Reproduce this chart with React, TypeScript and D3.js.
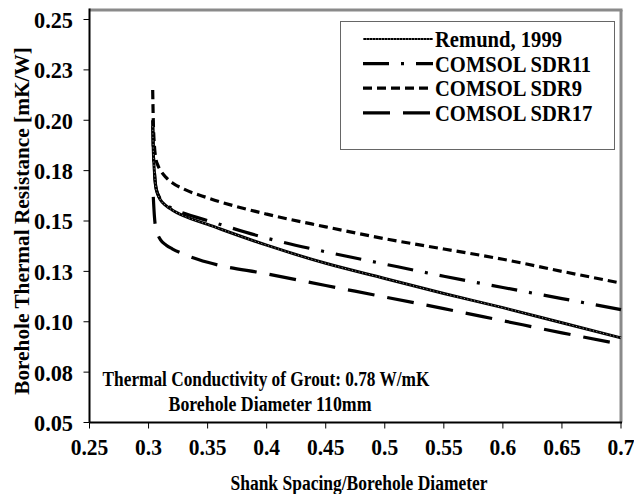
import React from "react";
import * as d3 from "d3";

// ---- data ----
const xValues = [0.3035, 0.304, 0.305, 0.306, 0.308, 0.31, 0.315, 0.32, 0.33, 0.35, 0.4, 0.45, 0.5, 0.55, 0.6, 0.65, 0.7];
const remund = [0.197, 0.185, 0.174, 0.1675, 0.163, 0.1605, 0.1575, 0.1555, 0.1525, 0.1483, 0.138, 0.129, 0.1215, 0.114, 0.107, 0.0995, 0.092];
const sdr11 = [0.2, 0.186, 0.174, 0.1675, 0.1632, 0.161, 0.158, 0.1562, 0.1538, 0.1502, 0.1415, 0.1347, 0.1286, 0.1226, 0.117, 0.1115, 0.106];
const sdr9 = [0.215, 0.2, 0.187, 0.1815, 0.1775, 0.1752, 0.1715, 0.169, 0.1658, 0.1615, 0.1534, 0.1471, 0.1412, 0.1361, 0.131, 0.125, 0.1192];
const sdr17 = [null, 0.162, 0.152, 0.1465, 0.143, 0.1408, 0.138, 0.1362, 0.1335, 0.1295, 0.1238, 0.118, 0.1123, 0.1065, 0.1005, 0.0945, 0.0888];

const seriesNames = ["Remund, 1999", "COMSOL SDR11", "COMSOL SDR9", "COMSOL SDR17"];

const xTicks = [0.25, 0.3, 0.35, 0.4, 0.45, 0.5, 0.55, 0.6, 0.65, 0.7];
const xTickLabels = ["0.25", "0.3", "0.35", "0.4", "0.45", "0.5", "0.55", "0.6", "0.65", "0.7"];
const yTicks = [0.05, 0.075, 0.1, 0.125, 0.15, 0.175, 0.2, 0.225, 0.25];
const yTickLabels = ["0.05", "0.08", "0.10", "0.13", "0.15", "0.18", "0.20", "0.23", "0.25"];

const FONT = "'Liberation Serif', 'Times New Roman', serif";

function T({ x, y, size, sy = 1.15, anchor = "start", children }: any) {
  return (
    <text transform={`translate(${x},${y}) scale(1,${sy})`} fontSize={size} textAnchor={anchor} dy="0.35em">
      {children}
    </text>
  );
}

export default function App() {
  const W = 634, H = 494;
  const left = 89.5, right = 621, top = 10, bottom = 422.5;
  const x = d3.scaleLinear().domain([0.25, 0.7]).range([left, right]);
  const y = d3.scaleLinear().domain([0.05, 0.25]).range([bottom, 19.5]);

  const mk = (vals: (number | null)[]) =>
    d3
      .line<number>()
      .defined((_, i) => vals[i] != null)
      .x((d) => x(d))
      .y((_, i) => y(vals[i] as number))
      .curve(d3.curveMonotoneX)(xValues) || "";

  const styles = [
    { dash: "", w: 3 },
    { dash: "26,12,3,12", w: 3.2 },
    { dash: "9,5", w: 3.2 },
    { dash: "27,13", w: 3.2 },
  ];
  const paths = [mk(remund), mk(sdr11), mk(sdr9), mk(sdr17)];

  const legX = 340.5, legY = 21.5, legW = 274, legH = 128;
  const rowY = (i: number) => 39 + i * 24.6;

  return (
    <svg width={W} height={H} style={{ position: "absolute", left: 0, top: 0, background: "#fff" }} fontFamily={FONT} fontWeight="bold">
      <rect x={0} y={0} width={W} height={H} fill="#fff" />
      {/* plot frame */}
      <line x1={left} y1={top} x2={right + 1.5} y2={top} stroke="#8a8a8a" strokeWidth={3} />
      <line x1={right} y1={top} x2={right} y2={bottom} stroke="#8a8a8a" strokeWidth={3} />
      <line x1={left} y1={top - 1.5} x2={left} y2={bottom} stroke="#000" strokeWidth={2} />
      <line x1={left} y1={bottom} x2={right + 1} y2={bottom} stroke="#000" strokeWidth={2} />

      {/* y ticks */}
      {yTicks.map((t, i) => (
        <g key={"yt" + i}>
          <line x1={left - 6} x2={left} y1={y(t)} y2={y(t)} stroke="#000" strokeWidth={1} />
          <T x={73} y={y(t)} size={22.3} sy={1.08} anchor="end">
            {yTickLabels[i]}
          </T>
        </g>
      ))}
      {/* x ticks */}
      {xTicks.map((t, i) => (
        <g key={"xt" + i}>
          <line x1={x(t)} x2={x(t)} y1={bottom} y2={bottom + 6} stroke="#000" strokeWidth={1} />
          <T x={x(t)} y={447} size={21.5} sy={1.1} anchor="middle">
            {xTickLabels[i]}
          </T>
        </g>
      ))}

      {/* axis titles */}
      <T x={359} y={483} size={17.5} sy={1.2} anchor="middle">
        Shank Spacing/Borehole Diameter
      </T>
      <text transform="translate(22,221) rotate(-90)" textAnchor="middle" dy="0.35em" fontSize={21.3}>
        Borehole Thermal Resistance [mK/W]
      </text>

      {/* annotation */}
      <T x={266} y={379} size={17.3} sy={1.2} anchor="middle">
        Thermal Conductivity of Grout: 0.78 W/mK
      </T>
      <T x={270} y={404} size={17.8} sy={1.2} anchor="middle">
        Borehole Diameter 110mm
      </T>

      {/* series */}
      {paths.map((p, i) => (
        <path key={"s" + i} d={p} fill="none" stroke="#000" strokeWidth={styles[i].w} strokeDasharray={styles[i].dash || undefined} />
      ))}
      <path d={paths[0]} fill="none" stroke="#fff" strokeWidth={0.8} strokeDasharray="1,2.5" opacity={0.8} />

      {/* legend */}
      <rect x={legX} y={legY} width={legW} height={legH} fill="#fff" stroke="#666" strokeWidth={1} />
      {seriesNames.map((n, i) => (
        <g key={"lg" + i}>
          <line x1={363} x2={433} y1={rowY(i)} y2={rowY(i)} stroke="#000" strokeWidth={i === 0 ? 2 : 3.2} strokeDasharray={styles[i].dash || undefined} />
          {i === 0 && <line x1={363} x2={433} y1={rowY(i)} y2={rowY(i)} stroke="#fff" strokeWidth={0.7} strokeDasharray="1,2" />}
          <T x={435} y={rowY(i)} size={20.6} sy={1.1}>
            {n}
          </T>
        </g>
      ))}
    </svg>
  );
}
